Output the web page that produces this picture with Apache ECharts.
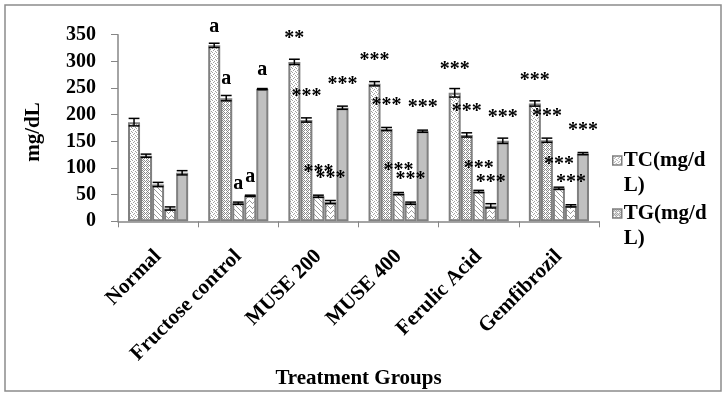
<!DOCTYPE html>
<html><head><meta charset="utf-8">
<script src="https://cdn.jsdelivr.net/npm/echarts@6/dist/echarts.min.js"></script>
<style>html,body{margin:0;padding:0;background:#fff}#c{width:727px;height:397px}</style>
</head><body><div id="c"></div>
<script>
const categories = ['Normal', 'Fructose control', 'MUSE 200', 'MUSE 400', 'Ferulic Acid', 'Gemfibrozil'];
const seriesNames = ['TC(mg/dL)', 'TG(mg/dL)', 'HDL(mg/dL)', 'VLDL(mg/dL)', 'LDL(mg/dL)'];
const tc = [186, 330, 299, 258, 241, 221];
const tcErr = [7, 4, 5, 4, 8, 5];
const tg = [123, 231, 190, 173, 162, 152];
const tgErr = [3, 5, 4, 3, 4, 4];
const hdl = [69, 34, 47, 52, 56, 62];
const hdlErr = [4, 2, 2, 2, 2, 2];
const vldl = [24, 48, 36, 34, 29, 29];
const vldlErr = [3, 1, 3, 2, 4, 2];
const ldl = [91, 248, 213, 169, 151, 127];
const ldlErr = [4, 1, 3, 2, 5, 2];
const tcSig = ['', 'a', '**', '***', '***', '***'];
const tgSig = ['', 'a', '***', '***', '***', '***'];
const hdlSig = ['', 'a', '***', '***', '***', '***'];
const vldlSig = ['', 'a', '***', '***', '***', '***'];
const ldlSig = ['', 'a', '***', '***', '***', '***'];
const yTicks = [0, 350, 50];

const FONT = "'Liberation Serif','Times New Roman',serif";

function pat(w, h, draw) {
  const c = document.createElement('canvas');
  c.width = w; c.height = h;
  const g = c.getContext('2d');
  g.fillStyle = '#fff'; g.fillRect(0, 0, w, h);
  draw(g);
  return { image: c, repeat: 'repeat' };
}
function px(g, col, pts) { g.fillStyle = col; pts.forEach(p => g.fillRect(p[0], p[1], 1, 1)); }
const fills = [
  pat(4, 4, g => px(g, '#a0a0a0', [[0,0],[2,1],[1,2],[3,3]])),
  pat(4, 4, g => px(g, '#8a8a8a', [[0,0],[2,0],[1,1],[3,1],[0,2],[2,2],[3,3]])),
  pat(5, 5, g => px(g, '#9a9a9a', [[0,0],[1,1],[2,2],[3,3],[4,4]])),
  pat(6, 5, g => px(g, '#9a9a9a', [[0,3],[1,2],[2,1],[3,0],[4,1],[5,2]])),
  '#c0c0c0'
];

const values = [tc, tg, hdl, vldl, ldl];
const errs = [tcErr, tgErr, hdlErr, vldlErr, ldlErr];
const sigs = [tcSig, tgSig, hdlSig, vldlSig, ldlSig];

const barSeries = values.map((vals, s) => ({
  name: seriesNames[s],
  type: 'bar',
  barGap: '0%',
  barCategoryGap: '25%',
  itemStyle: { color: fills[s], borderColor: '#808080', borderWidth: 2 },
  data: vals.map((v, i) => ({
    value: v,
    label: {
      show: !!sigs[s][i],
      position: 'top',
      distance: sigs[s][i] === 'a' ? 9 : 13,
      formatter: sigs[s][i],
      fontFamily: FONT, fontWeight: 'bold', fontSize: 20, color: '#000'
    }
  }))
}));

const errData = [];
values.forEach((vals, s) => vals.forEach((v, i) => errData.push([i, s, v, errs[s][i]])));

const errSeries = {
  type: 'custom',
  silent: true,
  z: 5,
  data: errData,
  encode: { x: 0, y: 2 },
  renderItem: function (params, api) {
    const cat = api.value(0), s = api.value(1), v = api.value(2), e = api.value(3);
    const band = api.size([1, 0])[0];
    const bw = band * 0.75 / 5;
    const base = api.coord([cat, v]);
    const x = base[0] + (s - 2) * bw;
    const yt = api.coord([cat, v + e])[1];
    const yb = api.coord([cat, v - e])[1];
    const hw = bw * 0.45;
    const st = { stroke: '#000', lineWidth: 1.5 };
    return { type: 'group', children: [
      { type: 'line', shape: { x1: x, y1: yt, x2: x, y2: yb }, style: st },
      { type: 'line', shape: { x1: x - hw, y1: yt, x2: x + hw, y2: yt }, style: st },
      { type: 'line', shape: { x1: x - hw, y1: yb, x2: x + hw, y2: yb }, style: st }
    ]};
  }
};

const chart = echarts.init(document.getElementById('c'), null, { renderer: 'canvas' });
chart.setOption({
  animation: false,
  backgroundColor: '#fff',
  textStyle: { fontFamily: FONT },
  graphic: [{ type: 'rect', shape: { x: 5, y: 5, width: 716, height: 386 }, style: { fill: 'none', stroke: '#8c8c8c', lineWidth: 1.5 }, silent: true }],
  grid: { left: 118, right: 128, top: 34.7, bottom: 175.7, containLabel: false },
  legend: {
    data: seriesNames.slice(0, 2),
    orient: 'vertical',
    left: 607, top: 118,
    itemWidth: 9, itemHeight: 9, itemGap: -22,
    icon: 'rect',
    itemStyle: { borderColor: '#808080', borderWidth: 1.5 },
    formatter: function (n) { return '\n' + n.replace('dL', 'd\nL'); },
    textStyle: { fontFamily: FONT, fontWeight: 'bold', fontSize: 21, lineHeight: 25, color: '#000', padding: [0, 0, 0, -3] }
  },
  xAxis: {
    type: 'category',
    data: categories,
    name: 'Treatment Groups',
    nameLocation: 'middle',
    nameGap: 147,
    nameTextStyle: { fontFamily: FONT, fontWeight: 'bold', fontSize: 21, color: '#000' },
    axisLine: { lineStyle: { color: '#868686', width: 1.5 } },
    axisTick: { show: true, length: 6, alignWithLabel: false, lineStyle: { color: '#868686' } },
    axisLabel: { rotate: 45, margin: 32, interval: 0, fontFamily: FONT, fontWeight: 'bold', fontSize: 21, color: '#000' }
  },
  yAxis: {
    type: 'value',
    min: yTicks[0], max: yTicks[1], interval: yTicks[2],
    name: 'mg/dL',
    nameLocation: 'middle',
    nameRotate: 90,
    nameGap: 74,
    nameTextStyle: { fontFamily: FONT, fontWeight: 'bold', fontSize: 21, color: '#000', padding: [0, 8, 0, 0] },
    axisLine: { show: true, lineStyle: { color: '#868686', width: 1.5 } },
    axisTick: { show: true, length: 7, lineStyle: { color: '#868686' } },
    splitLine: { show: false },
    axisLabel: { margin: 22, fontFamily: FONT, fontWeight: 'bold', fontSize: 20, color: '#000' }
  },
  series: barSeries.concat([errSeries])
});
</script></body></html>
